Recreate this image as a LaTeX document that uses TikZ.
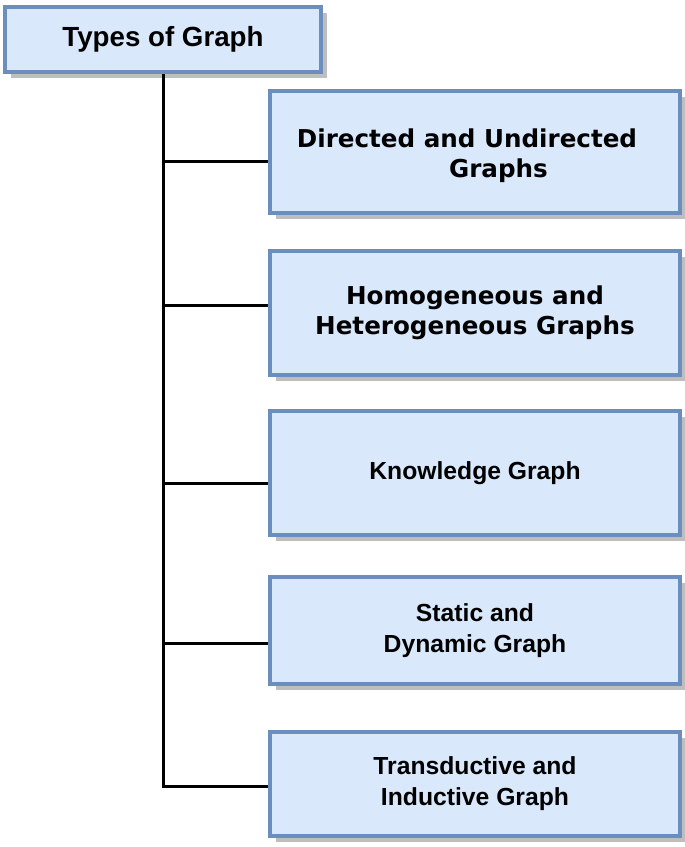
\documentclass[tikz,border=0pt]{standalone}
\usepackage{fontspec}
\setmainfont{Liberation Sans}
\newfontfamily\verd{DejaVu Sans}
\usetikzlibrary{shadows}
\definecolor{boxfill}{RGB}{218, 232, 252}
\definecolor{boxline}{RGB}{108, 142, 191}
\definecolor{shade}{RGB}{190, 190, 190}
\tikzset{
  gbox/.style={draw=boxline, fill=boxfill, line width=4pt, inner sep=0pt, align=center,
    minimum width=410pt, font=\bfseries\fontsize{24.7}{31}\selectfont,
    drop shadow={fill=shade, opacity=1, shadow xshift=6pt, shadow yshift=-6pt}},
  link/.style={line width=3pt, black}
}
\begin{document}
\begin{tikzpicture}[x=1pt, y=-1pt]
      \useasboundingbox (0, 0) rectangle (685, 847);
      \node[gbox, minimum width=316pt, minimum height=65pt, font=\bfseries\fontsize{27.7}{33}\selectfont] (t) at (163, 39) {Types of Graph};
      \node[gbox, minimum height=122pt, font=\verd\bfseries\fontsize{24.6}{30}\selectfont] (b1) at (475, 152) {\rule{0pt}{27pt}Directed and Undirected\hspace*{16pt}\\\hspace*{47pt}Graphs};
      \node[gbox, minimum height=124pt, font=\verd\bfseries\fontsize{24.6}{30}\selectfont] (b2) at (475, 313) {Homogeneous and\\Heterogeneous Graphs};
      \node[gbox, minimum height=124pt] (b3) at (475, 473) {Knowledge Graph};
      \node[gbox, minimum height=107pt] (b4) at (475, 630.5) {Static and\\Dynamic Graph};
      \node[gbox, minimum height=104pt] (b5) at (475, 784) {Transductive and\\Inductive Graph};
      \coordinate (k1) at (163, 161);
      \coordinate (k2) at (163, 305);
      \coordinate (k3) at (163, 483);
      \coordinate (k4) at (163, 643);
      \coordinate (k5) at (163, 786);
      \draw[link] (t.south) -- (k5) -- (k5 -| b5.west);
      \draw[link] (k1) -- (k1 -| b1.west);
      \draw[link] (k2) -- (k2 -| b2.west);
      \draw[link] (k3) -- (k3 -| b3.west);
      \draw[link] (k4) -- (k4 -| b4.west);
    \end{tikzpicture}
\end{document}
